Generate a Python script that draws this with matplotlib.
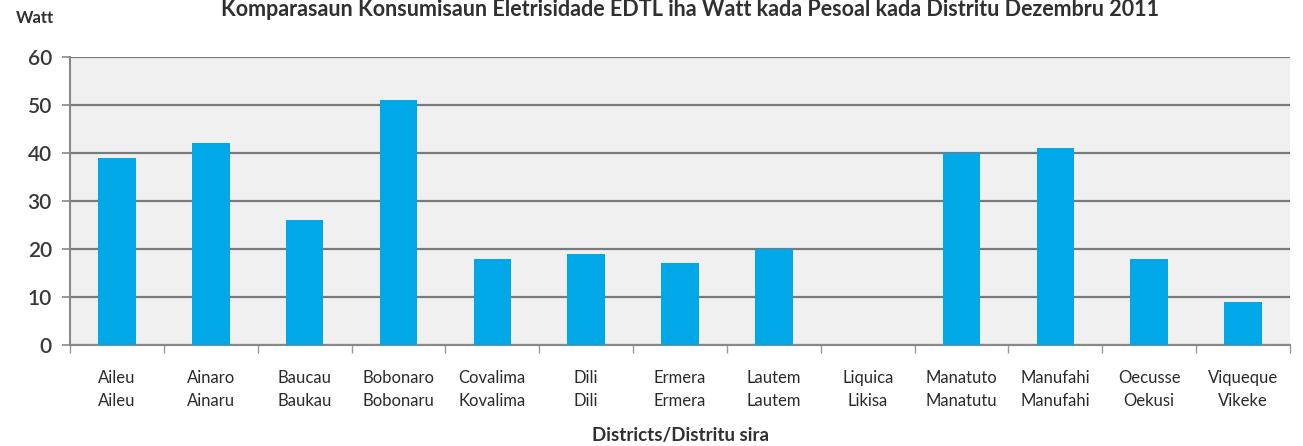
import matplotlib.pyplot as plt
import numpy as np

plt.rcParams['font.family'] = ['Lato', 'DejaVu Sans']

districts = ["Aileu", "Ainaro", "Baucau", "Bobonaro", "Covalima", "Dili", "Ermera",
             "Lautem", "Liquica", "Manatuto", "Manufahi", "Oecusse", "Viqueque"]
distritu = ["Aileu", "Ainaru", "Baukau", "Bobonaru", "Kovalima", "Dili", "Ermera",
            "Lautem", "Likisa", "Manatutu", "Manufahi", "Oekusi", "Vikeke"]
watt = [39, 42, 26, 51, 18, 19, 17, 20, 0, 40, 41, 18, 9]
yticks = [0, 10, 20, 30, 40, 50, 60]

fig = plt.figure(figsize=(13.03, 4.46), dpi=100)
ax = fig.add_axes([70 / 1303, 1 - 345 / 446, 1220 / 1303, 288 / 446])
ax.set_facecolor('#f0f0f0')

x = np.arange(len(districts))
ax.bar(x, watt, width=0.4, color='#00a8e8', zorder=3)

ax.set_xlim(-0.5, len(districts) - 0.5)
ax.set_ylim(0, 60)
ax.set_yticks(yticks)
ax.yaxis.grid(True, color='#7a7a7a', linewidth=1.6, zorder=1)
ax.tick_params(axis='y', labelsize=15, labelcolor='#383838', color='#888888',
               length=6, width=1.2, pad=7)
for t in ax.get_yticklabels():
    t.set_fontweight('semibold')

# category labels between boundary ticks
ax.set_xticks(np.arange(len(districts) + 1) - 0.5)
ax.set_xticklabels([])
ax.tick_params(axis='x', color='#999999', length=6, width=1)
ax.set_xticks(x, minor=True)
ax.set_xticklabels([f"{a}\n{b}" for a, b in zip(districts, distritu)], minor=True,
                   fontsize=12, color='#2a2a2a', linespacing=1.55)
ax.tick_params(axis='x', which='minor', length=0, pad=18)

for s in ['top', 'right']:
    ax.spines[s].set_visible(False)
ax.spines['left'].set_color('#888888')
ax.spines['left'].set_linewidth(1.5)
ax.spines['bottom'].set_color('#888888')
ax.spines['bottom'].set_linewidth(1.5)

fig.text(35 / 1303, 1 - 18 / 446, "Watt", fontsize=12, fontweight='bold',
         color='#303030', ha='center', va='center')
fig.text(690 / 1303, 1 - 10 / 446,
         "Komparasaun Konsumisaun Eletrisidade EDTL iha Watt kada Pesoal kada Distritu Dezembru 2011",
         fontsize=15.5, fontweight='bold', color='#303030', ha='center', va='center')
fig.text(680 / 1303, 1 - 436 / 446, "Districts/Distritu sira", fontsize=13.5,
         fontweight='bold', color='#303030', ha='center', va='center')

fig.savefig('out.png', dpi=100)
